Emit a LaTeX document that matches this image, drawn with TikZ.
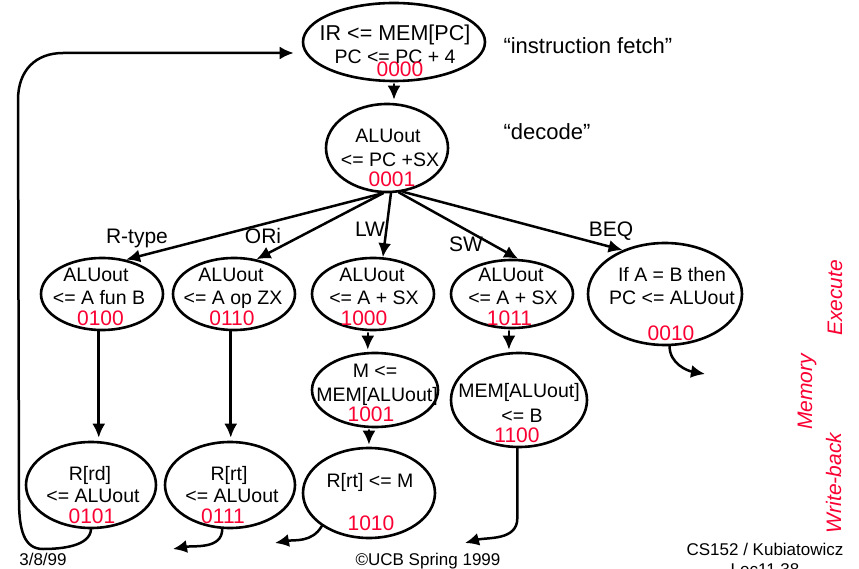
\documentclass[tikz,border=0pt]{standalone}
\usepackage{fontspec}
\setmainfont{Liberation Sans}
\usetikzlibrary{shapes.geometric,arrows.meta}
\definecolor{codered}{RGB}{250,0,50}
\tikzset{
  state/.style={draw, ellipse, line width=2.6pt, inner sep=0pt},
  flow/.style={line width=2.5pt, -{Latex[length=14pt,width=13pt]}},
  txt/.style={anchor=base, font=\fontsize{19.5}{23}\selectfont},
  code/.style={anchor=base, text=codered, font=\fontsize{21}{25}\selectfont},
  cond/.style={anchor=base, font=\fontsize{21}{25}\selectfont},
  note/.style={anchor=base west, font=\fontsize{22}{26}\selectfont},
  phase/.style={anchor=base, rotate=90, text=codered, font=\fontsize{21}{25}\selectfont\itshape},
  foot/.style={anchor=base, font=\fontsize{17}{20}\selectfont},
}
\begin{document}
\begin{tikzpicture}[x=1pt, y=-1pt, line cap=round, line join=round]
  \clip (0,0) rectangle (859,569);

  % states
  \node[state, minimum width=182, minimum height=78] (fetch) at (394,42) {};
  \node[state, minimum width=122, minimum height=88] (decode) at (387,148) {};
  \node[state, minimum width=122, minimum height=72] (rexe) at (102,294) {};
  \node[state, minimum width=122, minimum height=72] (oexe) at (234,294) {};
  \node[state, minimum width=122, minimum height=72] (lwexe) at (373,294) {};
  \node[state, minimum width=122, minimum height=68] (swexe) at (512,294) {};
  \node[state, minimum width=154, minimum height=102] (beq) at (665,294) {};
  \node[state, minimum width=126, minimum height=74] (lwmem) at (375,390) {};
  \node[state, minimum width=136, minimum height=94] (swmem) at (519,400) {};
  \node[state, minimum width=130, minimum height=86] (rwb) at (91,485) {};
  \node[state, minimum width=130, minimum height=86] (owb) at (230,485) {};
  \node[state, minimum width=132, minimum height=90] (lwwb) at (369,493) {};

  % state texts
  \node[txt, font=\fontsize{21.5}{25}\selectfont] (fetch-a) at (395,41) {IR <= MEM[PC]};
  \node[txt] (fetch-b) at (395,64) {PC <= PC + 4};
  \node[txt] (decode-a) at (388,143) {ALUout};
  \node[txt] (decode-b) at (390,167) {<= PC +SX};
  \node[txt] (rexe-a) at (96,282) {ALUout};
  \node[txt] (rexe-b) at (99,305) {<= A fun B};
  \node[txt] (oexe-a) at (231,282) {ALUout};
  \node[txt] (oexe-b) at (233,305) {<= A op ZX};
  \node[txt] (lwexe-a) at (372,282) {ALUout};
  \node[txt] (lwexe-b) at (374,305) {<= A + SX};
  \node[txt] (swexe-a) at (511,282) {ALUout};
  \node[txt] (swexe-b) at (513,305) {<= A + SX};
  \node[txt] (beq-a) at (672,282) {If A = B then};
  \node[txt] (beq-b) at (672,305) {PC <= ALUout};
  \node[txt] (lwmem-a) at (375,377) {M <=};
  \node[txt] (lwmem-b) at (377,401) {MEM[ALUout]};
  \node[txt] (swmem-a) at (519,397) {MEM[ALUout]};
  \node[txt] (swmem-b) at (522,422) {<= B};
  \node[txt] (rwb-a) at (90,480) {R[rd]};
  \node[txt] (rwb-b) at (93,502) {<= ALUout};
  \node[txt] (owb-a) at (229,480) {R[rt]};
  \node[txt] (owb-b) at (232,502) {<= ALUout};
  \node[txt] (lwwb-a) at (370,487) {R[rt] <= M};

  % state codes
  \node[code] (fetch-c) at (400,77) {0000};
  \node[code] (decode-c) at (392,187) {0001};
  \node[code] (rexe-c) at (100.5,325) {0100};
  \node[code] (oexe-c) at (232,325) {0110};
  \node[code] (lwexe-c) at (364,325) {1000};
  \node[code] (swexe-c) at (509.5,325) {1011};
  \node[code] (beq-c) at (671,340) {0010};
  \node[code] (lwmem-c) at (371,421) {1001};
  \node[code] (swmem-c) at (517,442) {1100};
  \node[code] (rwb-c) at (92,523) {0101};
  \node[code] (owb-c) at (223,523) {0111};
  \node[code] (lwwb-c) at (371,530) {1010};

  % transitions
  \draw[flow, shorten <=2pt, shorten >=3pt] (fetch.south) -- (fetch.south |- decode.north);
  \draw[flow] (decode.265) -- (rexe.55);
  \draw[flow] (decode.265) -- (oexe.57);
  \draw[flow] (decode.275) -- (lwexe.75);
  \draw[flow] (decode.285) -- (swexe.80);
  \draw[flow] (decode.290) -- (beq.134);
  \node[cond] (r-type) at (137,244) {R-type};
  \node[cond] (ori) at (263,244) {ORi};
  \node[cond] (lw) at (370,237) {LW};
  \node[cond] (sw) at (466,252) {SW};
  \node[cond] (beq-l) at (611,237) {BEQ};

  \draw[flow, shorten >=3pt] (rexe.265) -- (rexe.265 |- rwb.north);
  \draw[flow, shorten >=3pt] (oexe.265) -- (oexe.265 |- owb.north);
  \draw[flow, shorten <=2pt, shorten >=2pt] (lwexe.262) -- (lwexe.262 |- lwmem.north);
  \draw[flow, shorten <=2pt, shorten >=2pt] (lwmem.261) -- (lwmem.261 |- lwwb.north);
  \draw[flow, shorten <=2pt, shorten >=2pt] (swexe.265) -- (swexe.265 |- swmem.north);

  % back to fetch
  \coordinate (beq-out) at (705,374);
  \coordinate (sw-out) at (465,543);
  \coordinate (lw-out) at (275,543);
  \coordinate (ori-out) at (173,549);
  \coordinate (fetch-in) at ([shift={(-8,11)}]fetch.west);
  \draw[flow] (beq.275) to[out=-90, in=170] (beq-out);
  \draw[flow] (swmem.268) -- ++(0,70) to[out=-90, in=15] (sw-out);
  \draw[flow] (lwwb.215) to[out=-120, in=10] (lw-out);
  \draw[flow] (owb.260) to[out=-90, in=10] (ori-out);
  \draw[flow] (rwb.south) .. controls (90,546) and (62,549) .. (43,549)
    .. controls (24,549) and (19,530) .. (19,500) -- (18,100)
    .. controls (18,70) and (36,53) .. (63,53) -- (fetch-in);

  % notes
  \node[note] (fetch-note) at (500,54) {“instruction fetch”};
  \node[note] (decode-note) at (500,140) {“decode”};
  \node[phase] (execute) at (842,298) {Execute};
  \node[phase] (memory) at (812,392) {Memory};
  \node[phase] (writeback) at (841,483) {Write-back};
  \node[foot] (date) at (43,565) {3/8/99};
  \node[foot] (copy) at (428,565) {©UCB Spring 1999};
  \node[foot] (course) at (765,555) {CS152 / Kubiatowicz};
  \node[foot] (lec) at (765,575) {Lec11.38};
\end{tikzpicture}
\end{document}
